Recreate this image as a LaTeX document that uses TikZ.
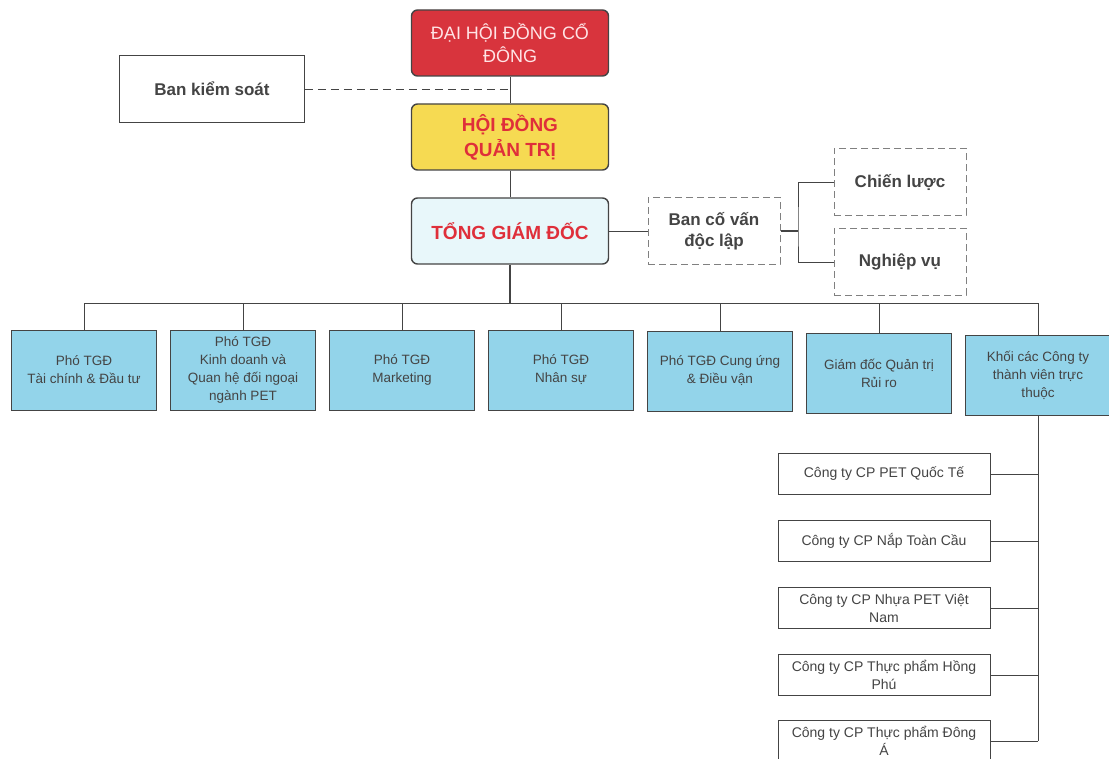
\documentclass[tikz,border=0pt]{standalone}
\usepackage{fontspec}
\setmainfont{Liberation Sans}
\usetikzlibrary{positioning}
\definecolor{cd8343d}{RGB}{216,52,61}
\definecolor{cf6da52}{RGB}{246,218,82}
\definecolor{ce8f7fa}{RGB}{232,247,250}
\definecolor{c93d4ea}{RGB}{147,212,234}
\definecolor{cdf2f3a}{RGB}{223,47,58}
\definecolor{cffe4e6}{RGB}{255,228,230}
\definecolor{c444444}{RGB}{68,68,68}

\tikzset{
  topbox/.style={draw=c444444,line width=1.4pt,rounded corners=6pt,minimum width=197pt,
    minimum height=66pt,align=center,inner sep=2pt},
  plainbox/.style={draw=c444444,line width=0.8pt,fill=white,align=center,inner sep=2pt},
  dashbox/.style={draw=gray,dash pattern=on 7pt off 4pt,line width=1pt,align=center,minimum width=132pt,
    minimum height=67pt,font=\fontsize{17}{21}\selectfont\bfseries,text=c444444},
  unitbox/.style={draw=c444444,line width=0.8pt,fill=c93d4ea,align=center,minimum width=145pt,
    minimum height=80pt,font=\fontsize{13.5}{18}\selectfont,text=c444444,inner sep=1pt},
  subbox/.style={plainbox,minimum width=212pt,minimum height=41pt,
    font=\fontsize{14}{18}\selectfont,text=c444444},
  link/.style={draw=c444444,line width=0.9pt}
}

\begin{document}
\begin{tikzpicture}[y=1pt, x=1pt, yscale=-1]
  \useasboundingbox (0,0) rectangle (1109,759);
  \clip (0,0) rectangle (1109,759);
  % top of the chart
  \node[topbox,fill=cd8343d,text=cffe4e6,font=\fontsize{18}{23}\selectfont] (dhdcd) at (510,43)
    {ĐẠI HỘI ĐỒNG CỔ\\ĐÔNG};
  \node[topbox,fill=cf6da52,text=cdf2f3a,font=\fontsize{19}{25}\selectfont\bfseries] (hdqt) at (510,137)
    {HỘI ĐỒNG\\QUẢN TRỊ};
  \node[topbox,fill=ce8f7fa,text=cdf2f3a,font=\fontsize{19}{25}\selectfont\bfseries] (tgd) at (510,231)
    {TỔNG GIÁM ĐỐC};
  \node[plainbox,minimum width=185pt,minimum height=67pt,font=\fontsize{17}{21}\selectfont\bfseries,
    text=c444444] (bks) at (212,89) {Ban kiểm soát};
  \draw[link] (dhdcd) -- (hdqt);
  \draw[link] (hdqt) -- (tgd);
  \coordinate (bksend) at (dhdcd.south |- bks.east);
  \draw[link,dash pattern=on 8pt off 5pt] (bks.east) -- (bksend);

  % advisory board
  \node[dashbox] (bcv) at (714,231) {Ban cố vấn\\độc lập};
  \node[dashbox] (cl) at (900,182) {Chiến lược};
  \node[dashbox] (nv) at (900,262) {Nghiệp vụ};
  \draw[link] (tgd) -- (bcv);
  \coordinate (fork) at (798,231);
  \draw[link,line width=1.4pt] (bcv.east) -- (fork);
  \draw[link] (cl.west) -| (fork) |- (nv.west);

  % deputies
  \coordinate (bus) at (510,303);
  \draw[link,line width=1.2pt] (tgd.south) -- (bus);
  \node[unitbox] (u1) at (84,370) {Phó TGĐ\\Tài chính \& Đầu tư};
  \node[unitbox] (u2) at (243,370) {Phó TGĐ\\Kinh doanh và\\Quan hệ đối ngoại\\ngành PET};
  \node[unitbox] (u3) at (402,370) {Phó TGĐ\\Marketing};
  \node[unitbox] (u4) at (561,370) {Phó TGĐ\\Nhân sự};
  \node[unitbox] (u5) at (720,371) {Phó TGĐ Cung ứng\\\& Điều vận};
  \node[unitbox] (u6) at (879,373) {Giám đốc Quản trị\\Rủi ro};
  \node[unitbox] (u7) at (1038,375) {Khối các Công ty\\thành viên trực\\thuộc};
  \foreach \u in {u1,u2,u3,u4,u5,u6,u7}
    \draw[link] (\u.north) -- (\u.north |- bus);
  \draw[link] (u1.north |- bus) -- (u7.north |- bus);

  % member companies
  \node[subbox] (c1) at (884,474) {Công ty CP PET Quốc Tế};
  \node[subbox] (c2) at (884,541) {Công ty CP Nắp Toàn Cầu};
  \node[subbox] (c3) at (884,608) {Công ty CP Nhựa PET Việt\\Nam};
  \node[subbox] (c4) at (884,675) {Công ty CP Thực phẩm Hồng\\Phú};
  \node[subbox] (c5) at (884,741) {Công ty CP Thực phẩm Đông\\Á};
  \draw[link] (u7.south) -- (u7.south |- c5.east);
  \foreach \c in {c1,c2,c3,c4,c5}
    \draw[link] (\c.east) -- (\c.east -| u7.south);
\end{tikzpicture}
\end{document}
